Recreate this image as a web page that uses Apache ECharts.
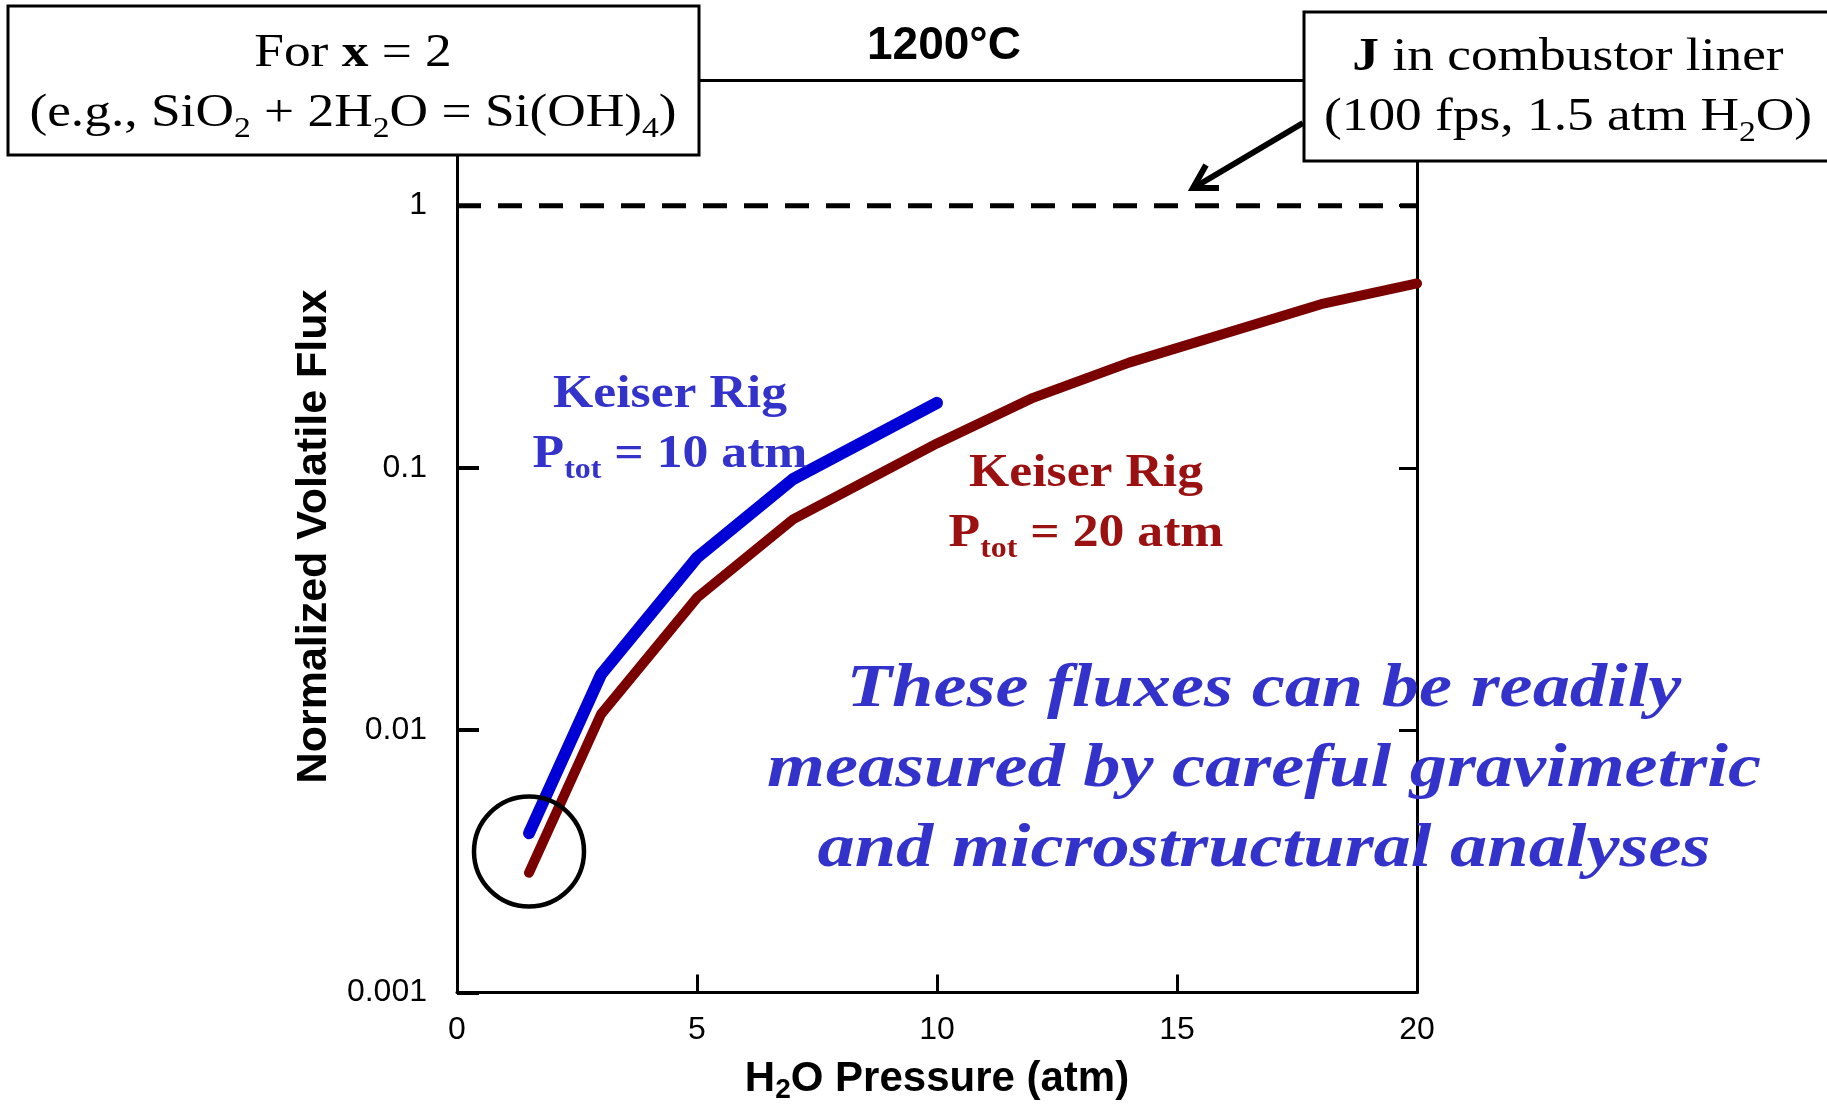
<!DOCTYPE html>
<html><head><meta charset="utf-8">
<script src="https://cdn.jsdelivr.net/npm/echarts@6/dist/echarts.min.js"></script>
<style>html,body{margin:0;padding:0;background:#fff}#c{width:1827px;height:1109px}</style>
</head><body><div id="c"></div>
<script>
// ---- data ----
const xTickLabels = ['0', '5', '10', '15', '20'];
const yTickLabels = ['0.001', '0.01', '0.1', '1'];
const blueP = [1.5, 3, 5, 7, 10];
const blueFlux = [0.00405, 0.0163, 0.0455, 0.0906, 0.177];
const redP = [1.5, 3, 5, 7, 10, 12, 14, 18, 20];
const redFlux = [0.00286, 0.0115, 0.032, 0.0637, 0.124, 0.185, 0.252, 0.421, 0.505];
const linerP = [0, 20];
const linerFlux = [1, 1];
const circleAt = [1.5, 0.00345];

const SANS = '"Liberation Sans", Arial, sans-serif';
const SERIF = '"Liberation Serif", "Times New Roman", serif';
const chart = echarts.init(document.getElementById('c'));

const pair = (xs, ys) => xs.map((x, i) => [x, ys[i]]);

const serifRich = (size, color, weight) => ({
  n: { fontFamily: SERIF, fontSize: size, fontWeight: weight, fill: color, color: color, lineHeight: 60, verticalAlign: 'middle' },
  b: { fontFamily: SERIF, fontSize: size, fontWeight: 'bold', fill: color, color: color, lineHeight: 60, verticalAlign: 'middle' },
  s: { fontFamily: SERIF, fontSize: Math.round(size * 0.62), fontWeight: weight, fill: color, color: color, lineHeight: 34, verticalAlign: 'bottom' }
});

chart.setOption({
  animation: false,
  backgroundColor: '#fff',
  grid: { left: 457, top: 80.5, width: 960, height: 912, containLabel: false, outerBoundsMode: 'none' },
  xAxis: [{
    type: 'value', min: 0, max: 20, interval: 5, position: 'bottom',
    axisLine: { show: true, onZero: false, lineStyle: { color: '#000', width: 3 } },
    axisTick: { show: true, inside: true, length: 18, lineStyle: { color: '#000', width: 3 } },
    splitLine: { show: false },
    axisLabel: { fontFamily: SANS, fontSize: 32, color: '#000', margin: 22,
      formatter: v => xTickLabels[Math.round(v / 5)] },
    name: '{a|H}{s|2}{a|O Pressure (atm)}', nameLocation: 'middle', nameGap: 62,
    nameTextStyle: { rich: {
      a: { fontFamily: SANS, fontSize: 42, fontWeight: 'bold', color: '#000', lineHeight: 50, verticalAlign: 'middle' },
      s: { fontFamily: SANS, fontSize: 28, fontWeight: 'bold', color: '#000', lineHeight: 22, verticalAlign: 'bottom' }
    } }
  }, {
    type: 'value', min: 0, max: 20, position: 'top',
    axisLine: { show: true, onZero: false, lineStyle: { color: '#000', width: 3 } },
    axisTick: { show: false }, axisLabel: { show: false }, splitLine: { show: false }
  }],
  yAxis: [{
    type: 'log', logBase: 10, min: 0.001, max: 3, position: 'left',
    axisLine: { show: true, onZero: false, lineStyle: { color: '#000', width: 3 } },
    axisTick: { show: true, inside: true, length: 22, lineStyle: { color: '#000', width: 4 } },
    minorTick: { show: false },
    splitLine: { show: false },
    axisLabel: { fontFamily: SANS, fontSize: 32, color: '#000', margin: 30,
      formatter: v => {
        const l = Math.log10(v), r = Math.round(l);
        return (Math.abs(l - r) < 1e-6 && r <= 0 && r >= -3) ? yTickLabels[r + 3] : '';
      } },
    name: 'Normalized Volatile Flux', nameLocation: 'middle', nameGap: 118, nameRotate: 90,
    nameTextStyle: { fontFamily: SANS, fontSize: 43, fontWeight: 'bold', color: '#000' }
  }, {
    type: 'log', logBase: 10, min: 0.001, max: 3, position: 'right',
    axisLine: { show: true, onZero: false, lineStyle: { color: '#000', width: 3 } },
    axisTick: { show: true, inside: true, length: 18, lineStyle: { color: '#000', width: 3 } },
    axisLabel: { show: false }, splitLine: { show: false }
  }],
  series: [
    { type: 'line', name: 'liner', xAxisIndex: 0, yAxisIndex: 0, data: pair(linerP, linerFlux),
      symbol: 'none', silent: true,
      lineStyle: { color: '#000', width: 5, type: [24, 17] } },
    { type: 'line', name: 'P20', xAxisIndex: 0, yAxisIndex: 0, data: pair(redP, redFlux),
      symbol: 'none', clip: false,
      lineStyle: { color: '#7a0000', width: 10, cap: 'round', join: 'round' } },
    { type: 'line', name: 'P10', xAxisIndex: 0, yAxisIndex: 0, data: pair(blueP, blueFlux),
      symbol: 'none', clip: false,
      lineStyle: { color: '#0000d6', width: 12, cap: 'round', join: 'round' } },
    { type: 'scatter', name: 'circle', xAxisIndex: 0, yAxisIndex: 0, data: [circleAt],
      symbol: 'circle', symbolSize: 110, silent: true, z: 5,
      itemStyle: { color: 'rgba(0,0,0,0)', borderColor: '#000', borderWidth: 4.5, opacity: 1 } }
  ],
  graphic: [
    // arrow to liner line
    { type: 'line', z: 90, shape: { x1: 1303, y1: 123, x2: 1195, y2: 187 },
      style: { stroke: '#000', lineWidth: 6, lineCap: 'butt' } },
    { type: 'polyline', z: 90, shape: { points: [[1206, 165], [1193, 188], [1219, 188]] },
      style: { stroke: '#000', fill: null, lineWidth: 6, lineJoin: 'miter' } },
    // boxes
    { type: 'rect', z: 100, shape: { x: 8, y: 6, width: 691, height: 149 },
      style: { fill: '#fff', stroke: '#000', lineWidth: 3 } },
    { type: 'rect', z: 100, shape: { x: 1304, y: 12, width: 540, height: 149 },
      style: { fill: '#fff', stroke: '#000', lineWidth: 3 } },
    { type: 'text', z: 110, x: 353, y: 84, scaleX: 1.16,
      style: { text: '{n|For }{b|x}{n| = 2}\n{n|(e.g., SiO}{s|2}{n| + 2H}{s|2}{n|O = Si(OH)}{s|4}{n|)}',
        rich: serifRich(46, '#000', 'normal'), align: 'center', verticalAlign: 'middle' } },
    { type: 'text', z: 110, x: 1568, y: 88, scaleX: 1.16,
      style: { text: '{b|J}{n| in combustor liner}\n{n|(100 fps, 1.5 atm H}{s|2}{n|O)}',
        rich: serifRich(46, '#000', 'normal'), align: 'center', verticalAlign: 'middle' } },
    // title
    { type: 'text', z: 110, x: 944, y: 46,
      style: { text: '1200°C', fontFamily: SANS, fontSize: 46, fontWeight: 'bold', fill: '#000',
        align: 'center', verticalAlign: 'middle' } },
    // series labels
    { type: 'text', z: 110, x: 670, y: 425, scaleX: 1.1,
      style: { text: '{n|Keiser Rig}\n{n|P}{s|tot}{n| = 10 atm}',
        rich: serifRich(47, '#3333cc', 'bold'), align: 'center', verticalAlign: 'middle' } },
    { type: 'text', z: 110, x: 1086, y: 504, scaleX: 1.1,
      style: { text: '{n|Keiser Rig}\n{n|P}{s|tot}{n| = 20 atm}',
        rich: serifRich(47, '#9b1111', 'bold'), align: 'center', verticalAlign: 'middle' } },
    // annotation
    { type: 'text', z: 110, x: 1264, y: 770, scaleX: 1.2,
      style: { text: 'These fluxes can be readily\nmeasured by careful gravimetric\nand microstructural analyses',
        fontFamily: SERIF, fontSize: 62, fontWeight: 'bold', fontStyle: 'italic', fill: '#3333cc',
        lineHeight: 80, align: 'center', verticalAlign: 'middle' } }
  ]
});
</script>
</body></html>
